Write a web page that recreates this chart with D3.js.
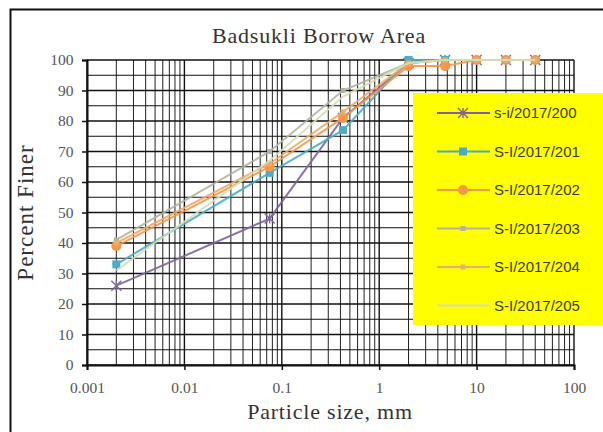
<!DOCTYPE html>
<html>
<head>
<meta charset="utf-8">
<script src="https://cdn.jsdelivr.net/npm/d3@7"></script>
<style>
  body { margin: 0; background: #fff; }
</style>
</head>
<body>
<div id="chart"></div>
<script>
// sieve sizes, mm
const sizes = [0.002, 0.075, 0.425, 2, 4.75, 10, 20, 40];

const s200 = [26, 48, 81, 99, 100, 100, 100, 100];
const s201 = [33, 63, 77, 100, 100, 100, 100, 100];
const s202 = [39, 65, 81, 98, 98, 100, 100, 100];
const s203 = [41, 70, 90, 99, 100, 100, 100, 100];
const s204 = [40, 66, 83, 99, 100, 100, 100, 100];
const s205 = [31, 67, 88, 99, 100, 100, 100, 100];

const seriesNames = ['s-i/2017/200', 'S-I/2017/201', 'S-I/2017/202', 'S-I/2017/203', 'S-I/2017/204', 'S-I/2017/205'];
const xTicks = [0.001, 0.01, 0.1, 1, 10, 100];
const yTicks = [0, 10, 20, 30, 40, 50, 60, 70, 80, 90, 100];

const series = [
    {name: seriesNames[0], values: s200, color: '#7f63a1', marker: 'x'},
    {name: seriesNames[1], values: s201, color: '#4bacc6', marker: 'square'},
    {name: seriesNames[2], values: s202, color: '#f79646', marker: 'circle'},
    {name: seriesNames[3], values: s203, color: '#b3b3a0', marker: 'small'},
    {name: seriesNames[4], values: s204, color: '#e9ad72', marker: 'small'},
    {name: seriesNames[5], values: s205, color: '#d3dfb6', marker: 'none'}
];

const width = 603, height = 432;
const margin = {top: 60, right: 29, bottom: 67, left: 87};

const svg = d3.select('#chart').append('svg')
    .attr('width', width)
    .attr('height', height);

// chart frame
svg.append('rect')
    .attr('x', 10.5).attr('y', 9.5)
    .attr('width', 620).attr('height', 440)
    .attr('fill', '#fff')
    .attr('stroke', '#111')
    .attr('stroke-width', 2);

const xScale = d3.scaleLog()
    .domain([0.001, 100])
    .range([margin.left, width - margin.right]);

const yScale = d3.scaleLinear()
    .domain([0, 100])
    .range([height - margin.bottom, margin.top]);

// grid
const minorX = [];
for (let e = -3; e < 2; e++) {
    for (let m = 2; m <= 9; m++) minorX.push(m * Math.pow(10, e));
}
const grid = svg.append('g');
grid.selectAll('.vminor')
    .data(minorX)
    .enter()
    .append('line')
    .attr('x1', d => xScale(d)).attr('x2', d => xScale(d))
    .attr('y1', yScale(0)).attr('y2', yScale(100))
    .attr('stroke', '#222').attr('stroke-width', 1);
grid.selectAll('.vmajor')
    .data(xTicks)
    .enter()
    .append('line')
    .attr('x1', d => xScale(d)).attr('x2', d => xScale(d))
    .attr('y1', yScale(0)).attr('y2', yScale(100))
    .attr('stroke', '#111').attr('stroke-width', 1.4);
grid.selectAll('.hline')
    .data(d3.range(0, 101, 5))
    .enter()
    .append('line')
    .attr('x1', xScale(0.001)).attr('x2', xScale(100))
    .attr('y1', d => yScale(d)).attr('y2', d => yScale(d))
    .attr('stroke', '#111')
    .attr('stroke-width', d => d % 10 === 0 ? 1.4 : 1);

// axes
const xAxis = d3.axisBottom(xScale)
    .tickValues(xTicks)
    .tickFormat(d => String(d))
    .tickSize(5);
const yAxis = d3.axisLeft(yScale)
    .tickValues(yTicks)
    .tickSize(5);

const gx = svg.append('g')
    .attr('transform', `translate(0,${yScale(0)})`)
    .call(xAxis);
const gy = svg.append('g')
    .attr('transform', `translate(${xScale(0.001)},0)`)
    .call(yAxis);
[gx, gy].forEach(g => {
    g.select('.domain').attr('stroke', '#111').attr('stroke-width', 2);
    g.selectAll('.tick line').attr('stroke', '#111').attr('stroke-width', 1.5);
    g.selectAll('.tick text')
        .attr('font-family', 'Liberation Serif, serif')
        .attr('font-size', 15.5)
        .attr('fill', '#555');
});
gx.selectAll('.tick text').attr('dy', '1.3em');
gy.selectAll('.tick text').attr('dx', '-0.35em');

// lines
const line = d3.line()
    .x((d, i) => xScale(sizes[i]))
    .y(d => yScale(d));

function drawMarker(g, type, color, x, y) {
    if (type === 'x') {
        g.append('path')
            .attr('d', `M${x-5},${y-5}L${x+5},${y+5}M${x-5},${y+5}L${x+5},${y-5}M${x},${y-5}L${x},${y+5}`)
            .attr('stroke', color).attr('stroke-width', 1.4).attr('fill', 'none');
    } else if (type === 'square') {
        g.append('rect')
            .attr('x', x - 4).attr('y', y - 4).attr('width', 8).attr('height', 8)
            .attr('fill', color);
    } else if (type === 'circle') {
        g.append('circle')
            .attr('cx', x).attr('cy', y).attr('r', 5)
            .attr('fill', color);
    } else if (type === 'small') {
        g.append('rect')
            .attr('x', x - 2.5).attr('y', y - 2.5).attr('width', 5).attr('height', 5)
            .attr('fill', color);
    }
}

const plot = svg.append('g');
series.forEach(s => {
    const g = plot.append('g');
    g.append('path')
        .datum(s.values)
        .attr('d', line)
        .attr('fill', 'none')
        .attr('stroke', s.color)
        .attr('stroke-width', 2)
        .attr('opacity', 0.9);
    s.values.forEach((v, i) => drawMarker(g, s.marker, s.color, xScale(sizes[i]), yScale(v)));
});

// legend
const legend = svg.append('g');
legend.append('rect')
    .attr('x', 413).attr('y', 93)
    .attr('width', 200).attr('height', 232)
    .attr('fill', '#ffff00');
series.forEach((s, i) => {
    const y = 113 + i * 38.5;
    legend.append('line')
        .attr('x1', 437).attr('x2', 490)
        .attr('y1', y).attr('y2', y)
        .attr('stroke', s.color).attr('stroke-width', 2);
    drawMarker(legend, s.marker, s.color, 463, y);
    legend.append('text')
        .attr('x', 494).attr('y', y)
        .attr('dy', '0.35em')
        .attr('font-family', 'Liberation Sans, Arial, sans-serif')
        .attr('font-size', 15)
        .attr('fill', '#3b3b10')
        .text(s.name);
});

// titles
svg.append('text')
    .attr('x', 319).attr('y', 43)
    .attr('text-anchor', 'middle')
    .attr('font-family', 'Liberation Serif, serif')
    .attr('font-size', 22)
    .attr('letter-spacing', 0.8)
    .attr('fill', '#333')
    .text('Badsukli Borrow Area');

svg.append('text')
    .attr('x', 330).attr('y', 419)
    .attr('text-anchor', 'middle')
    .attr('font-family', 'Liberation Serif, serif')
    .attr('font-size', 22)
    .attr('letter-spacing', 0.8)
    .attr('fill', '#333')
    .text('Particle size, mm');

svg.append('text')
    .attr('transform', `translate(33,${yScale(50)}) rotate(-90)`)
    .attr('text-anchor', 'middle')
    .attr('font-family', 'Liberation Serif, serif')
    .attr('font-size', 23)
    .attr('letter-spacing', 1)
    .attr('fill', '#333')
    .text('Percent Finer');
</script>
</body>
</html>
